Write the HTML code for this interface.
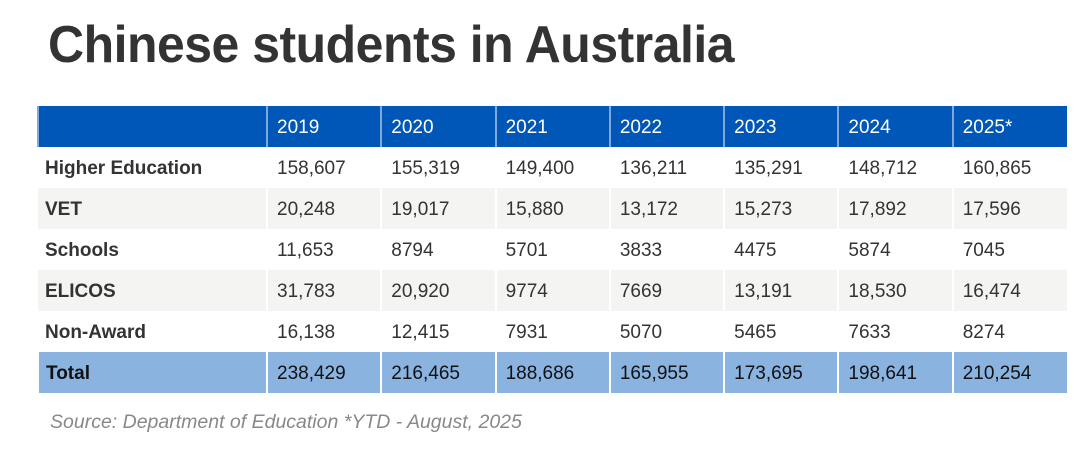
<!DOCTYPE html>
<html><head><style>
body{margin:0;width:1080px;height:463px;background:#fff;font-family:"Liberation Sans",sans-serif;position:relative;overflow:hidden}
h1{position:absolute;left:48px;top:15px;margin:0;font-size:52px;font-weight:bold;color:#333;transform:scaleX(0.96);transform-origin:left top;white-space:nowrap;letter-spacing:-0.5px}
table{position:absolute;left:37px;top:106px;border-collapse:collapse;width:1030px;table-layout:fixed}
td{height:41px;padding:2px 0 0 9px;font-size:19px;color:#333;border-left:2px solid #fff;white-space:nowrap;box-sizing:border-box}
td:first-child{border-left:none;font-weight:bold;padding-left:7px;width:229px}
tr.h td{background:#0057b8;color:#fff;border-left:2px solid #7fa8dc}
tr.g td{background:#f4f4f3}
tr.t td{background:#8ab3e0;color:#111;border-left:2px solid #fff}
.src{position:absolute;left:50px;top:411px;font-size:19.5px;font-style:italic;color:#888}
</style></head><body>
<h1>Chinese students in Australia</h1>
<table>
<tr class="h"><td></td><td>2019</td><td>2020</td><td>2021</td><td>2022</td><td>2023</td><td>2024</td><td>2025*</td></tr>
<tr><td>Higher Education</td><td>158,607</td><td>155,319</td><td>149,400</td><td>136,211</td><td>135,291</td><td>148,712</td><td>160,865</td></tr>
<tr class="g"><td>VET</td><td>20,248</td><td>19,017</td><td>15,880</td><td>13,172</td><td>15,273</td><td>17,892</td><td>17,596</td></tr>
<tr><td>Schools</td><td>11,653</td><td>8794</td><td>5701</td><td>3833</td><td>4475</td><td>5874</td><td>7045</td></tr>
<tr class="g"><td>ELICOS</td><td>31,783</td><td>20,920</td><td>9774</td><td>7669</td><td>13,191</td><td>18,530</td><td>16,474</td></tr>
<tr><td>Non-Award</td><td>16,138</td><td>12,415</td><td>7931</td><td>5070</td><td>5465</td><td>7633</td><td>8274</td></tr>
<tr class="t"><td>Total</td><td>238,429</td><td>216,465</td><td>188,686</td><td>165,955</td><td>173,695</td><td>198,641</td><td>210,254</td></tr>
</table>
<div class="src">Source: Department of Education *YTD - August, 2025</div>
</body></html>
